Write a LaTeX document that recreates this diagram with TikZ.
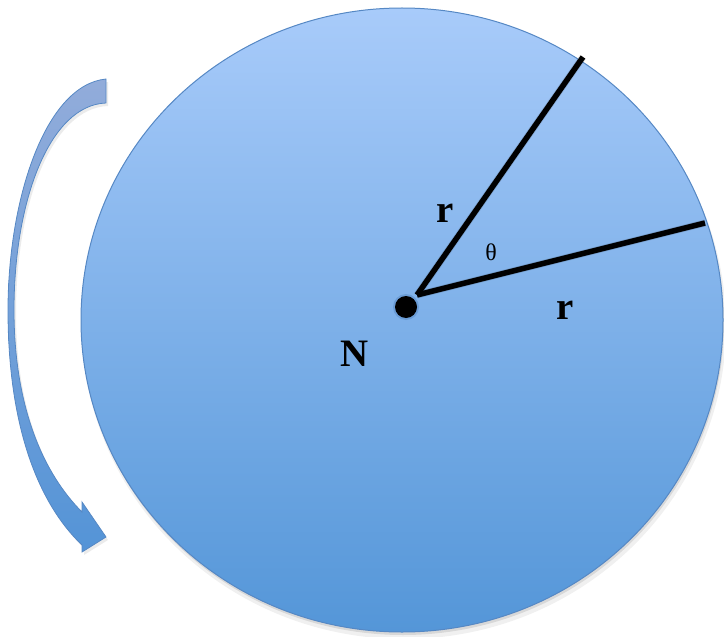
\documentclass[tikz,border=0pt]{standalone}
\usepackage{fontspec}
\setmainfont{Liberation Serif}
\definecolor{disktop}{RGB}{168,203,250}
\definecolor{diskbot}{RGB}{84,150,216}
\definecolor{diskedge}{RGB}{86,136,196}
\definecolor{arrtop}{RGB}{146,172,218}
\definecolor{arrbot}{RGB}{84,148,215}
\tikzset{
  radius line/.style={line width=5.5bp, black},
  biglabel/.style={font=\fontsize{39}{41}\selectfont\bfseries, inner sep=0pt},
  smalllabel/.style={font=\fontsize{24}{26}\selectfont, inner sep=0pt},
}
\begin{document}
\begin{tikzpicture}[x=1bp,y=-1bp]
\useasboundingbox (0,0) rectangle (724,637);
% shadow of disk
\fill[black, opacity=0.06] (404,326) ellipse [x radius=322, y radius=313];
\fill[black, opacity=0.10] (403,323) ellipse [x radius=321, y radius=312];
% disk
\shadedraw[top color=disktop, bottom color=diskbot, draw=diskedge, line width=1bp]
  (402,320) ellipse [x radius=321, y radius=312];
% curved arrow
\fill[black, opacity=0.08, xshift=2bp, yshift=-3bp]
  (106,79) .. controls (45,85) and (8,200) .. (8,310)
  .. controls (8,430) and (40,505) .. (82,545)
  -- (82,552) -- (106,537) -- (82,502) -- (82,512)
  .. controls (45,475) and (14,410) .. (14,310)
  .. controls (14,200) and (50,105) .. (106,103) -- cycle;
\shadedraw[top color=arrtop, bottom color=arrbot, draw=diskedge, line width=0.8bp, line join=miter]
  (106,79) .. controls (45,85) and (8,200) .. (8,310)
  .. controls (8,430) and (40,505) .. (82,545)
  -- (82,552) -- (106,537) -- (82,502) -- (82,512)
  .. controls (45,475) and (14,410) .. (14,310)
  .. controls (14,200) and (50,105) .. (106,103) -- cycle;
% radii
\coordinate (C) at (417,295);
\coordinate (P1) at (583,57);
\coordinate (P2) at (705,223);
\draw[black, opacity=0.12, line width=7bp, xshift=1bp, yshift=-2bp] (C) -- (P1) (C) -- (P2);
\draw[radius line] (C) -- (P1);
\draw[radius line] (C) -- (P2);
% center dot
\fill[diskedge, opacity=0.5] (406,307) circle [radius=13];
\node[circle, fill=black, minimum size=22bp, inner sep=0pt] (dot) at (406,307) {};
% labels
\node[biglabel] (r1) at (445,213) {r};
\node[smalllabel] (th) at (491,252) {θ};
\node[biglabel] (r2) at (565,310) {r};
\node[biglabel] (N) at (355,354) {N};
\end{tikzpicture}
\end{document}
